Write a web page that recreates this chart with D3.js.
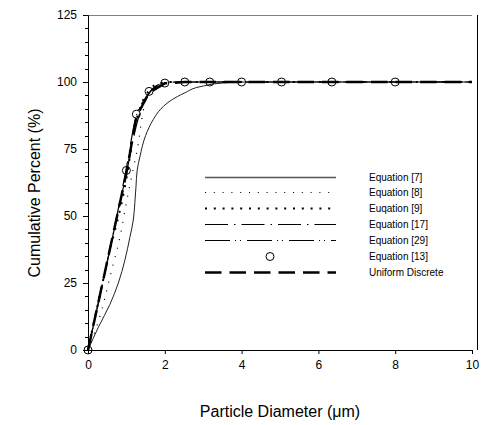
<!DOCTYPE html>
<html>
<head>
<meta charset="utf-8">
<script src="https://cdn.jsdelivr.net/npm/d3@7"></script>
<style>
  body { margin: 0; background: #fff; }
  text { font-family: "Liberation Sans", Arial, sans-serif; fill: #000; }
</style>
</head>
<body>
<div id="chart"></div>
<script>
// values
const eq7X = [0, 0.27, 0.57, 0.79, 0.96, 1.09, 1.18, 1.22, 1.25, 1.28, 1.35, 1.5, 1.7, 1.9, 2.2, 2.5, 3.0, 3.5, 4, 10];
const eq7Y = [0, 8.5, 17, 25, 33.5, 42, 48.5, 55, 61, 67, 72, 80, 86, 90, 93.5, 95.8, 98.5, 99.6, 100, 100];

const eq8X = [0, 0.36, 0.62, 0.83, 1.0, 1.17, 1.31, 1.4, 1.48, 1.66, 1.92, 2.3, 10];
const eq8Y = [0, 15, 30, 42, 55, 67, 77, 86, 92, 97, 99.5, 100, 100];

const eq9X = [0, 0.5, 1.0, 1.2, 1.4, 1.6, 1.85, 2.2, 10];
const eq9Y = [0, 33, 64, 82, 92, 97, 99.5, 100, 100];

const eq17X = [0, 1.0, 1.3, 1.55, 1.9, 2.3, 10];
const eq17Y = [0, 66, 86, 95, 99.3, 100, 100];

const eq29X = [0, 1.0, 1.25, 1.5, 1.9, 2.4, 10];
const eq29Y = [0, 68, 87, 94, 99, 100, 100];

const eq13X = [0, 1, 1.26, 1.59, 2, 2.52, 3.17, 4, 5.04, 6.35, 8];
const eq13Y = [0, 67, 88, 96.5, 99.6, 100, 100, 100, 100, 100, 100];

const uniX = [0, 1.0, 1.26, 1.59, 2, 2.52, 10];
const uniY = [0, 66, 87, 96, 99.5, 100, 100];

const legendLabels = ["Equation [7]", "Equation [8]", "Euqation [9]", "Equation [17]", "Equation [29]", "Equation [13]", "Uniform Discrete"];

const xTicks = [0, 2, 4, 6, 8, 10];
const yTicks = [0, 25, 50, 75, 100, 125];

const margin = { top: 15, right: 9, bottom: 75, left: 88 };
const w = 384, h = 335;

function zip(xs, ys) {
  return xs.map((x, i) => ({ x: x, y: ys[i] }));
}

const svg = d3.select("#chart")
  .append("svg")
  .attr("width", 481)
  .attr("height", 425);

const g = svg.append("g")
  .attr("transform", "translate(" + margin.left + "," + margin.top + ")");

const xScale = d3.scaleLinear().domain([0, 10]).range([0, w]);
const yScale = d3.scaleLinear().domain([0, 125]).range([h, 0]);

// frame: grey top, black right
g.append("line")
  .attr("x1", 0).attr("x2", w).attr("y1", 0.5).attr("y2", 0.5)
  .attr("stroke", "#808080").attr("stroke-width", 1);
g.append("line")
  .attr("x1", w + 5.5).attr("x2", w + 5.5).attr("y1", 0).attr("y2", h)
  .attr("stroke", "#000").attr("stroke-width", 1);

// series styles (kept apart from the values)
const series = [
  { x: eq7X, y: eq7Y, dash: null, width: 1, color: "#222", curve: d3.curveMonotoneY },
  { x: eq8X, y: eq8Y, dash: "1,7.8", width: 1.2, color: "#000", curve: d3.curveMonotoneX },
  { x: eq9X, y: eq9Y, dash: "2,6.8", width: 2, color: "#000", curve: d3.curveMonotoneX },
  { x: eq17X, y: eq17Y, dash: "23,6,1.5,6", width: 1.2, color: "#000", curve: d3.curveMonotoneX },
  { x: eq29X, y: eq29Y, dash: "25,5,1,4,1,6", width: 1.2, color: "#000", curve: d3.curveMonotoneX },
  null,
  { x: uniX, y: uniY, dash: "16.5,8", width: 2.5, color: "#000", curve: d3.curveLinear }
];

series.forEach((s) => {
  if (!s) return;
  const line = d3.line()
    .x((d) => xScale(d.x))
    .y((d) => yScale(d.y))
    .curve(s.curve);
  g.append("path")
    .datum(zip(s.x, s.y))
    .attr("d", line)
    .attr("fill", "none")
    .attr("stroke", s.color)
    .attr("stroke-width", s.width)
    .attr("stroke-dasharray", s.dash);
});

// Equation [13] points
g.selectAll("circle.pt")
  .data(zip(eq13X, eq13Y))
  .enter()
  .append("circle")
  .attr("class", "pt")
  .attr("cx", (d) => xScale(d.x))
  .attr("cy", (d) => yScale(d.y))
  .attr("r", 4)
  .attr("fill", "none")
  .attr("stroke", "#000")
  .attr("stroke-width", 1);

// axes
const xAxis = d3.axisBottom(xScale).tickValues(xTicks).tickSize(4).tickPadding(6).tickFormat(d3.format("d"));
const yAxis = d3.axisLeft(yScale).tickValues(yTicks).tickSize(5).tickPadding(6).tickFormat(d3.format("d"));

const gx = g.append("g").attr("transform", `translate(0, ${h})`).call(xAxis);
const gy = g.append("g").call(yAxis);

// minor y ticks every 5
g.append("g")
  .selectAll("line")
  .data(d3.range(0, 126, 5).filter((v) => v % 25 !== 0))
  .enter()
  .append("line")
  .attr("x1", -3).attr("x2", 0)
  .attr("y1", (d) => Math.round(yScale(d)) + 0.5).attr("y2", (d) => Math.round(yScale(d)) + 0.5)
  .attr("stroke", "#000");

[gx, gy].forEach((a) => {
  a.select(".domain").attr("stroke", "#000");
  a.selectAll("text").style("font-size", "12px").style("font-family", "'Liberation Sans', Arial, sans-serif");
});

// axis titles
svg.append("text")
  .attr("x", 280)
  .attr("y", 417)
  .attr("text-anchor", "middle")
  .style("font-size", "16px")
  .text("Particle Diameter (\u03bcm)");

svg.append("text")
  .attr("transform", "translate(40,193) rotate(-90)")
  .attr("text-anchor", "middle")
  .style("font-size", "16px")
  .text("Cumulative Percent (%)");

// legend
const legendY = [177, 192, 208, 224, 240, 256, 272];
const lg = svg.append("g");
legendLabels.forEach((label, i) => {
  const s = series[i];
  const y = legendY[i] + 0.5;
  if (s) {
    lg.append("line")
      .attr("x1", 205).attr("x2", 336).attr("y1", y).attr("y2", y)
      .attr("stroke", i === 0 ? "#555" : s.color)
      .attr("stroke-width", i === 0 ? 1.5 : s.width)
      .attr("stroke-dasharray", s.dash);
  } else {
    lg.append("circle")
      .attr("cx", 270).attr("cy", y).attr("r", 4)
      .attr("fill", "none").attr("stroke", "#000");
  }
  lg.append("text")
    .attr("x", 369)
    .attr("y", legendY[i])
    .attr("dy", "0.35em")
    .style("font-size", "10px")
    .text(label);
});
</script>
</body>
</html>
